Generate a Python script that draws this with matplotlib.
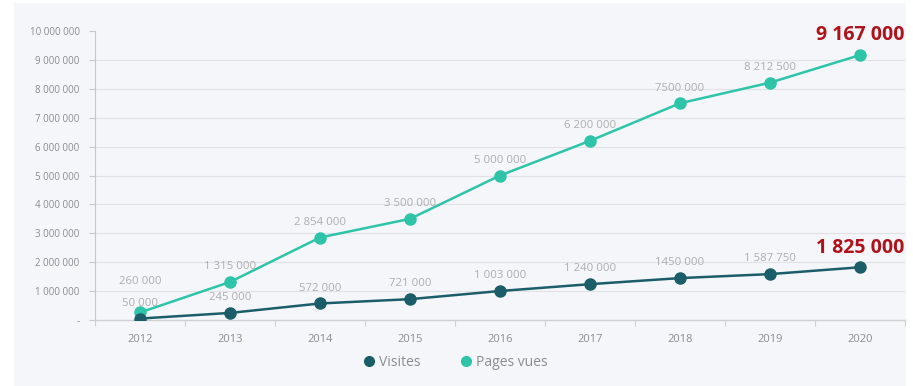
import matplotlib
matplotlib.use("Agg")
import matplotlib.pyplot as plt
from matplotlib.patches import Rectangle
from matplotlib.lines import Line2D

years = ["2012", "2013", "2014", "2015", "2016", "2017", "2018", "2019", "2020"]
visites = [50000, 245000, 572000, 721000, 1003000, 1240000, 1450000, 1587750, 1825000]
pages_vues = [260000, 1315000, 2854000, 3500000, 5000000, 6200000, 7500000, 8212500, 9167000]
visites_labels = ["50 000", "245 000", "572 000", "721 000", "1 003 000", "1 240 000", "1450 000", "1 587 750", "1 825 000"]
pages_labels = ["260 000", "1 315 000", "2 854 000", "3 500 000", "5 000 000", "6 200 000", "7500 000", "8 212 500", "9 167 000"]
yticks = [0, 1000000, 2000000, 3000000, 4000000, 5000000, 6000000, 7000000, 8000000, 9000000, 10000000]
ytick_labels = ["-", "1 000 000", "2 000 000", "3 000 000", "4 000 000", "5 000 000",
                "6 000 000", "7 000 000", "8 000 000", "9 000 000", "10 000 000"]

plt.rcParams['font.family'] = ['Open Sans', 'DejaVu Sans']

c_pages = "#2ec4a9"
c_vis = "#1b5e69"
c_lab = "#adadad"
c_tick = "#8c8c8c"
c_red = "#b0121b"
bg = "#f5f6fa"

fig = plt.figure(figsize=(9.13, 3.86), dpi=100)
fig.patch.set_facecolor("white")
fig.patches.append(Rectangle((14/913, 0), (906-14)/913, 1 - 3/386, transform=fig.transFigure,
                             facecolor=bg, edgecolor="none", zorder=-10))

ax = fig.add_axes([95/913, 1 - 320/386, (905-95)/913, (320-31)/386])
ax.set_facecolor("none")
x = list(range(len(years)))

ax.plot(x, pages_vues, color=c_pages, lw=1.8, marker="o", ms=8, zorder=3)
ax.plot(x, visites, color=c_vis, lw=1.8, marker="o", ms=8, zorder=4)

ax.set_xlim(-0.5, len(years) - 0.5)
ax.set_ylim(0, 10000000)
ax.set_yticks(yticks)
ax.set_yticklabels(ytick_labels)
ax.set_xticks(x)
ax.set_xticklabels(years)
ax.set_xticks([i - 0.5 for i in range(len(years) + 1)], minor=True)

for sp in ["top", "right"]:
    ax.spines[sp].set_visible(False)
ax.spines["left"].set_color("#c8c8c8")
ax.spines["bottom"].set_color("#d0d0d0")
ax.spines["left"].set_linewidth(0.8)
ax.spines["bottom"].set_linewidth(1.0)

ax.tick_params(axis="y", labelsize=7, labelcolor=c_tick, length=4, width=0.8, pad=7, color="#c8c8c8")
ax.tick_params(axis="x", which="major", length=0, labelsize=8, labelcolor=c_tick, pad=10)
ax.tick_params(axis="x", which="minor", length=4, width=0.8, color="#d0d0d0")

for yv in yticks[1:-1]:
    ax.axhline(yv, color="#e1e2e6", lw=0.8, zorder=0)

n = len(years)
for i in range(n - 1):
    off_p = 18 if i == 0 else 7
    ax.annotate(pages_labels[i], (x[i], pages_vues[i]), xytext=(0, off_p), textcoords="offset points",
                ha="center", va="bottom", fontsize=8.2, color=c_lab, zorder=5)
    ax.annotate(visites_labels[i], (x[i], visites[i]), xytext=(0, 7), textcoords="offset points",
                ha="center", va="bottom", fontsize=8.2, color=c_lab, zorder=5)

ax.annotate(pages_labels[-1], (x[-1], pages_vues[-1]), xytext=(0, 7), textcoords="offset points",
            ha="center", va="bottom", fontsize=14, fontweight="bold", color=c_red, zorder=6)
ax.annotate(visites_labels[-1], (x[-1], visites[-1]), xytext=(0, 7), textcoords="offset points",
            ha="center", va="bottom", fontsize=14, fontweight="bold", color=c_red, zorder=6)

handles = [Line2D([], [], color=c_vis, marker="o", ls="none", ms=7),
           Line2D([], [], color=c_pages, marker="o", ls="none", ms=7)]
fig.legend(handles, ["Visites", "Pages vues"], loc="center", bbox_to_anchor=(455/913, 1 - 362/386),
           ncol=2, frameon=False, fontsize=10, labelcolor="#8c8c8c", handletextpad=0.2,
           columnspacing=2.8, handlelength=1.0)

fig.savefig("out.png", dpi=100, facecolor=fig.get_facecolor())
